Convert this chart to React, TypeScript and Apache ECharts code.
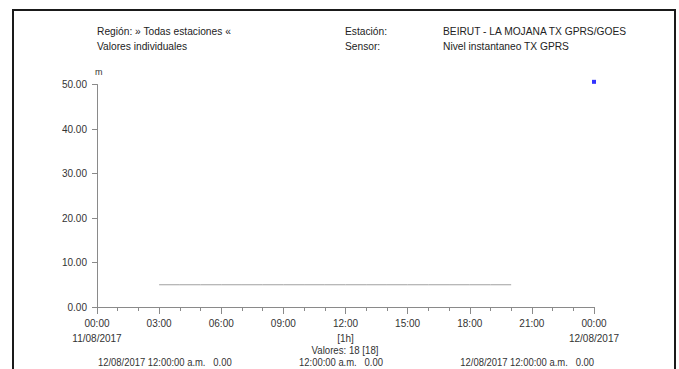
import React, { useEffect, useRef } from "react";
import * as echarts from "echarts";

const FONT = "'Liberation Sans', Arial, sans-serif";

const lineHours = [3, 4, 5, 6, 7, 8, 9, 10, 11, 12, 13, 14, 15, 16, 17, 18, 19, 20];
const lineValues = [5.0, 5.0, 5.0, 5.0, 5.0, 5.0, 5.0, 5.0, 5.0, 5.0, 5.0, 5.0, 5.0, 5.0, 5.0, 5.0, 5.0, 5.0];
const pointHours = [24];
const pointValues = [50.6];
const yTicks = [0, 10, 20, 30, 40, 50];
const startDate = "11/08/2017";
const endDate = "12/08/2017";

const headerLeft = ["Región: » Todas estaciones «", "Valores individuales"];
const headerMidLabels = ["Estación:", "Sensor:"];
const headerValues = ["BEIRUT - LA MOJANA TX GPRS/GOES", "Nivel instantaneo TX GPRS"];
const summary = "Valores: 18 [18]";
const footer = [
  "12/08/2017 12:00:00 a.m.   0.00",
  "12:00:00 a.m.   0.00",
  "12/08/2017 12:00:00 a.m.   0.00",
];

export default function App() {
  const ref = useRef<HTMLDivElement>(null);
  useEffect(() => {
    document.body.style.margin = "0";
    const chart = echarts.init(ref.current!, undefined, { renderer: "svg" });
    const pad = (n: number) => (n < 10 ? "0" + n : "" + n);
    const txt = { fontFamily: FONT, fontSize: 11, fill: "#222" };
    const small = { fontFamily: FONT, fontSize: 10.5, fill: "#333" };
    chart.setOption({
      animation: false,
      backgroundColor: "#fff",
      grid: { left: 97, right: 85, top: 84.5, bottom: 62, containLabel: false },
      xAxis: {
        type: "value",
        min: 0,
        max: 24,
        interval: 3,
        axisLine: { show: true, lineStyle: { color: "#8a8a8a", width: 1 } },
        axisTick: { show: true, length: 7, lineStyle: { color: "#8a8a8a" } },
        minorTick: { show: true, splitNumber: 3, length: 4, lineStyle: { color: "#8a8a8a" } },
        splitLine: { show: false },
        axisLabel: {
          margin: 8.5,
          fontFamily: FONT,
          fontSize: 10,
          color: "#333",
          lineHeight: 15,
          formatter: (v: number) => {
            const base = pad(v % 24) + ":00";
            if (v === 0) return base + "\n" + startDate;
            if (v === 24) return base + "\n" + endDate;
            if (v === 12) return base + "\n[1h]";
            return base;
          },
        },
      },
      yAxis: {
        type: "value",
        min: yTicks[0],
        max: yTicks[yTicks.length - 1],
        interval: 10,
        name: "m",
        nameLocation: "end",
        nameGap: 8,
        nameTextStyle: { fontFamily: FONT, fontSize: 9, color: "#333", align: "left", padding: [0, 0, 0, -2] },
        axisLine: { show: true, lineStyle: { color: "#8a8a8a", width: 1 } },
        axisTick: { show: true, length: 5, lineStyle: { color: "#8a8a8a" } },
        splitLine: { show: false },
        axisLabel: {
          margin: 10,
          fontFamily: FONT,
          fontSize: 10,
          color: "#333",
          formatter: (v: number) => v.toFixed(2),
        },
      },
      series: [
        {
          type: "line",
          data: lineHours.map((h, i) => [h, lineValues[i]]),
          showSymbol: false,
          lineStyle: { color: "#a0a0a0", width: 1 },
          itemStyle: { color: "#a0a0a0" },
        },
        {
          type: "scatter",
          data: pointHours.map((h, i) => [h, pointValues[i]]),
          symbol: "rect",
          symbolSize: 4,
          clip: false,
          itemStyle: { color: "#0000ff" },
        },
      ],
      graphic: [
        {
          type: "rect",
          shape: { x: 13, y: 10, width: 662, height: 420 },
          style: { fill: "none", stroke: "#1a1a1a", lineWidth: 2 },
        },
        { type: "text", x: 97, y: 25, scaleX: 0.93, style: { ...txt, text: headerLeft[0] } },
        { type: "text", x: 97, y: 40, scaleX: 0.93, style: { ...txt, text: headerLeft[1] } },
        { type: "text", x: 345, y: 25, scaleX: 0.93, style: { ...txt, text: headerMidLabels[0] } },
        { type: "text", x: 345, y: 40, scaleX: 0.93, style: { ...txt, text: headerMidLabels[1] } },
        { type: "text", x: 443, y: 25, scaleX: 0.93, style: { ...txt, text: headerValues[0] } },
        { type: "text", x: 443, y: 40, scaleX: 0.93, style: { ...txt, text: headerValues[1] } },
        {
          type: "text",
          x: 345,
          y: 350,
          scaleX: 0.92,
          style: { ...small, text: summary, align: "center", verticalAlign: "middle" },
        },
        {
          type: "text",
          x: 98,
          y: 362.5,
          scaleX: 0.9,
          style: { ...small, text: footer[0], verticalAlign: "middle" },
        },
        {
          type: "text",
          x: 341,
          y: 362.5,
          scaleX: 0.9,
          style: { ...small, text: footer[1], align: "center", verticalAlign: "middle" },
        },
        {
          type: "text",
          x: 594,
          y: 362.5,
          scaleX: 0.9,
          style: { ...small, text: footer[2], align: "right", verticalAlign: "middle" },
        },
      ],
    });
    return () => chart.dispose();
  }, []);
  return (
    <div
      ref={ref}
      style={{ position: "fixed", left: 0, top: 0, width: 679, height: 369, overflow: "hidden" }}
    />
  );
}
